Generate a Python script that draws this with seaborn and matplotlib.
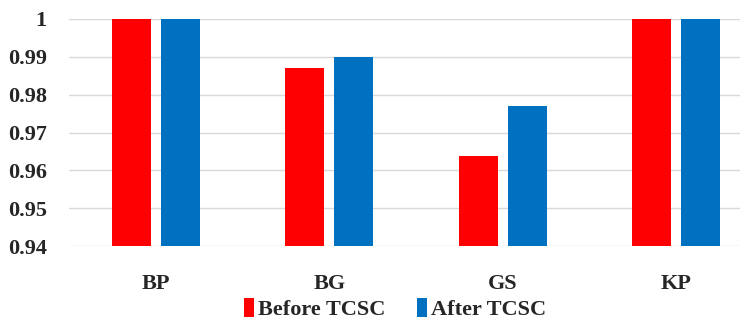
import seaborn as sns
import matplotlib.pyplot as plt
import pandas as pd

# bus names and voltage values (p.u.)
buses = ["BP", "BG", "GS", "KP"]
before_tcsc = [1.0, 0.987, 0.9637, 1.0]
after_tcsc = [1.0, 0.990, 0.977, 1.0]
series_names = ["Before TCSC", "After TCSC"]
yticks = [0.94, 0.95, 0.96, 0.97, 0.98, 0.99, 1.0]
ytick_labels = ["0.94", "0.95", "0.96", "0.97", "0.98", "0.99", "1"]

df = pd.DataFrame({
    "bus": buses * 2,
    "value": before_tcsc + after_tcsc,
    "series": [series_names[0]] * 4 + [series_names[1]] * 4,
})

sns.set_style("white")
plt.rcParams['font.family'] = ['Liberation Serif', 'DejaVu Serif']
plt.rcParams['font.weight'] = 'bold'

fig = plt.figure(figsize=(7.4, 3.24), dpi=100)
ax = fig.add_axes([69 / 740, 78 / 324, 694 / 740, 227 / 324])

sns.barplot(
    data=df, x="bus", y="value", hue="series",
    palette=["#FF0000", "#0070C0"],
    width=0.564, gap=0.2, ax=ax, legend=True, saturation=1,
    linewidth=0,
)

ax.set_ylim(0.94, 1.0)
ax.set_xlim(-0.5, 3.5)
ax.set_yticks(yticks)
ax.set_yticklabels(ytick_labels, fontsize=16, fontweight='bold')
ax.tick_params(axis='x', labelsize=16, pad=20, length=0)
ax.tick_params(axis='y', length=0, pad=16)
for lab in ax.get_xticklabels():
    lab.set_fontweight('bold')
ax.yaxis.grid(True, color="#d9d9d9", linewidth=1)
ax.set_axisbelow(True)
for s in ax.spines.values():
    s.set_visible(False)
ax.set_xlabel("")
ax.set_ylabel("")

handles, labels = ax.get_legend_handles_labels()
ax.get_legend().remove()
fig.legend(
    handles, labels, loc='lower center', bbox_to_anchor=(395 / 740, -0.05),
    ncol=2, frameon=False, prop={'size': 16, 'weight': 'bold'},
    handlelength=0.45, handleheight=0.9, handletextpad=0.2, columnspacing=1.4,
)

plt.savefig("out.png", dpi=100)
